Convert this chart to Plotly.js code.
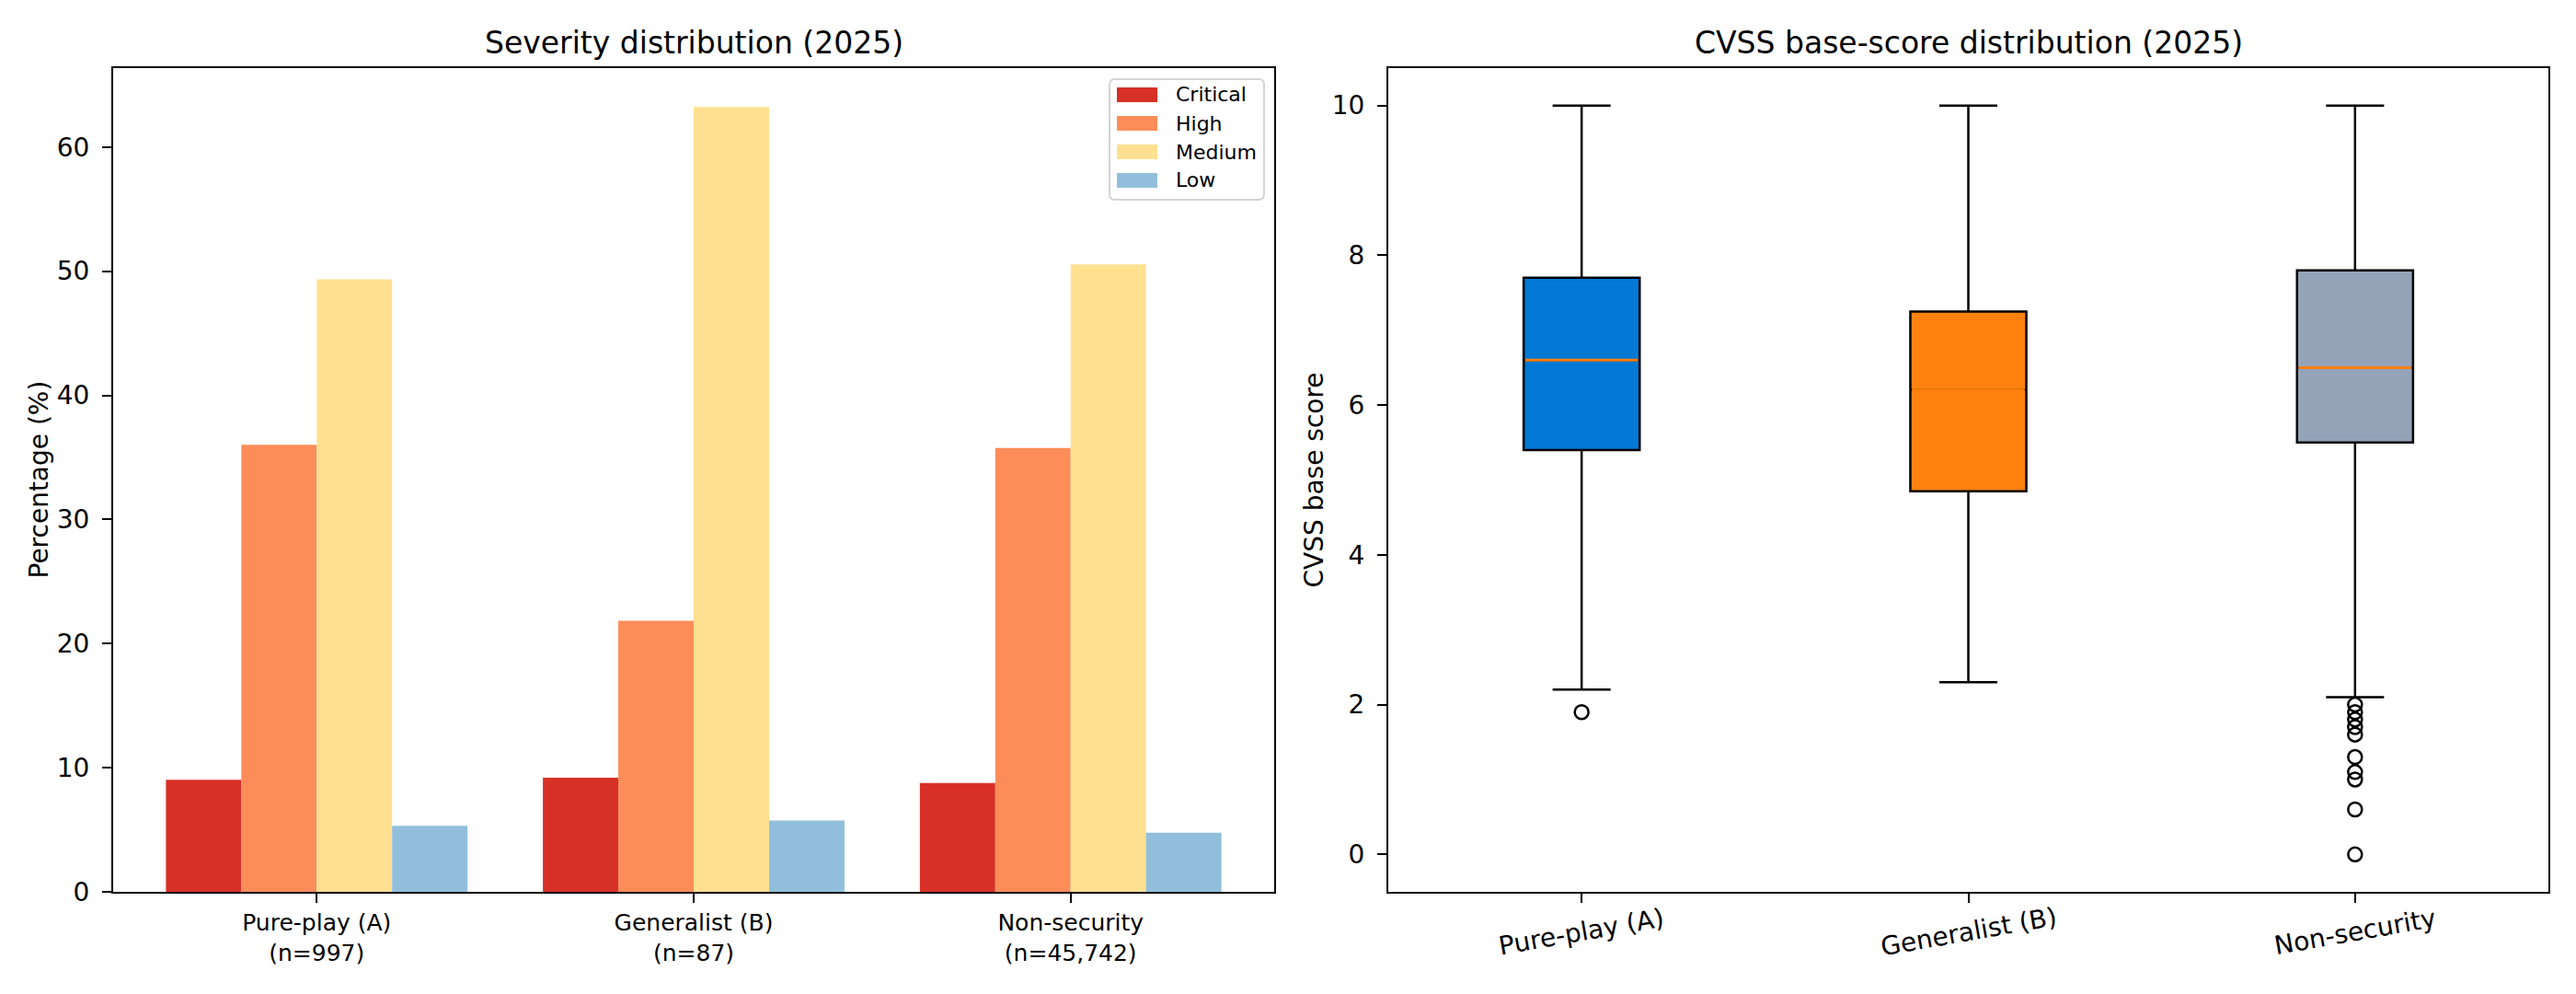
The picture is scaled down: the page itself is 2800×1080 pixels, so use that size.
<!DOCTYPE html>
<html>
<head>
<meta charset="utf-8">
<script src="https://cdn.plot.ly/plotly-3.0.1.min.js"></script>
<style>
  html, body { margin: 0; padding: 0; background: #ffffff; }
  #chart { width: 2800px; height: 1080px; }
</style>
</head>
<body>
<div id="chart"></div>
<script>
// ---- data -------------------------------------------------------------
const groups = ['Pure-play (A)', 'Generalist (B)', 'Non-security'];
const groupSizes = ['997', '87', '45,742'];

const severities = ['Critical', 'High', 'Medium', 'Low'];
const severityColors = ['#d73027', '#fc8d59', '#fee090', '#91bfdb'];

// share of CVEs per severity level (%), one value per group
const pctCritical = [9.03, 9.20, 8.77];
const pctHigh     = [36.01, 21.84, 35.76];
const pctMedium   = [49.35, 63.22, 50.55];
const pctLow      = [5.32, 5.75, 4.77];

// CVSS base-score summary per group
const boxColors        = ['#0078d4', '#ff8210', '#94a3b8'];
const cvssQ1           = [5.4, 4.85, 5.5];
const cvssMedian       = [6.6, 6.2, 6.5];
const cvssQ3           = [7.7, 7.25, 7.8];
const cvssLowerWhisker = [2.2, 2.3, 2.1];
const cvssUpperWhisker = [10, 10, 10];
const outliersPurePlay    = [1.9];
const outliersGeneralist  = [];
const outliersNonSecurity = [2.0, 1.9, 1.8, 1.7, 1.6, 1.3, 1.1, 1.0, 0.6, 0.0];

// ---- helpers ----------------------------------------------------------
const FIG_W = 2800, FIG_H = 1080;
const px = x => x / FIG_W;          // pixel column -> paper x
const py = y => 1 - y / FIG_H;      // pixel row    -> paper y
const FONT = 'DejaVu Sans, Verdana, sans-serif';

const pctBySeverity = [pctCritical, pctHigh, pctMedium, pctLow];
const outliersByGroup = [outliersPurePlay, outliersGeneralist, outliersNonSecurity];
const BOX_WIDTH = 0.3;

// ---- traces -----------------------------------------------------------
const traces = [];

severities.forEach((sev, k) => {
  traces.push({
    type: 'bar', name: sev,
    x: groups, y: pctBySeverity[k],
    xaxis: 'x', yaxis: 'y',
    marker: { color: severityColors[k], line: { width: 0 } },
    showlegend: false, hoverinfo: 'x+y+name'
  });
});

groups.forEach((g, i) => {
  traces.push({
    type: 'box', name: g,
    x: [g],
    q1: [cvssQ1[i]], median: [cvssMedian[i]], q3: [cvssQ3[i]],
    lowerfence: [cvssLowerWhisker[i]], upperfence: [cvssUpperWhisker[i]],
    xaxis: 'x2', yaxis: 'y2',
    fillcolor: boxColors[i],
    line: { color: '#000000', width: 2.5 },
    width: BOX_WIDTH, whiskerwidth: 0.5,
    boxpoints: false, showlegend: false
  });
});

groups.forEach((g, i) => {
  const vals = outliersByGroup[i];
  if (!vals.length) return;
  traces.push({
    type: 'scatter', mode: 'markers',
    x: vals.map(() => g), y: vals,
    xaxis: 'x2', yaxis: 'y2',
    marker: { symbol: 'circle-open', size: 15, color: '#000000', line: { width: 2.5, color: '#000000' } },
    showlegend: false, hoverinfo: 'y'
  });
});

// ---- axes -------------------------------------------------------------
const axisCommon = {
  showline: true, mirror: true, linecolor: '#000000', linewidth: 2,
  ticks: 'outside', ticklen: 10, tickwidth: 2, tickcolor: '#000000',
  showgrid: false, zeroline: false, fixedrange: true,
  tickfont: { family: FONT, size: 28, color: '#000000' }
};

const yTop = 74, yBottom = 969;

const layout = {
  width: FIG_W, height: FIG_H,
  margin: { l: 0, r: 0, t: 0, b: 0, pad: 0 },
  paper_bgcolor: '#ffffff', plot_bgcolor: '#ffffff',
  font: { family: FONT, color: '#000000' },
  showlegend: false,
  barmode: 'group', bargap: 0.2, bargroupgap: 0,
  boxmode: 'overlay',
  xaxis: Object.assign({}, axisCommon, {
    domain: [px(123), px(1385)], anchor: 'y',
    type: 'category', range: [-0.54, 2.54],
    tickvals: groups,
    ticktext: groups.map((g, i) => g + '<br>(n=' + groupSizes[i] + ')'),
    tickfont: { family: FONT, size: 25, color: '#000000' }
  }),
  yaxis: Object.assign({}, axisCommon, {
    domain: [py(yBottom), py(yTop)], anchor: 'x',
    range: [0, 66.36], tick0: 0, dtick: 10, ticklabelstandoff: 8
  }),
  xaxis2: Object.assign({}, axisCommon, {
    domain: [px(1509), px(2770)], anchor: 'y2',
    type: 'category', range: [-0.5, 2.5],
    tickvals: groups, showticklabels: false
  }),
  yaxis2: Object.assign({}, axisCommon, {
    domain: [py(yBottom), py(yTop)], anchor: 'x2',
    range: [-0.5, 10.5], tick0: 0, dtick: 2, ticklabelstandoff: 8
  }),
  shapes: [],
  annotations: []
};

// median markers drawn in orange over each box
groups.forEach((g, i) => {
  layout.shapes.push({
    type: 'line', xref: 'x2', yref: 'y2', layer: 'above',
    x0: i - BOX_WIDTH / 2 + 0.004, x1: i + BOX_WIDTH / 2 - 0.004,
    y0: cvssMedian[i], y1: cvssMedian[i],
    line: { color: '#ff7f0e', width: 3 }
  });
});

// subplot titles
layout.annotations.push(
  { text: 'Severity distribution (2025)', xref: 'paper', yref: 'paper',
    x: px((123 + 1385) / 2), y: py(46), xanchor: 'center', yanchor: 'middle',
    showarrow: false, font: { family: FONT, size: 33, color: '#000000' } },
  { text: 'CVSS base-score distribution (2025)', xref: 'paper', yref: 'paper',
    x: px((1509 + 2770) / 2), y: py(46), xanchor: 'center', yanchor: 'middle',
    showarrow: false, font: { family: FONT, size: 33, color: '#000000' } }
);

// y-axis titles
layout.annotations.push(
  { text: 'Percentage (%)', xref: 'paper', yref: 'paper',
    x: px(42), y: py((yTop + yBottom) / 2), textangle: -90,
    xanchor: 'center', yanchor: 'middle', showarrow: false,
    font: { family: FONT, size: 28, color: '#000000' } },
  { text: 'CVSS base score', xref: 'paper', yref: 'paper',
    x: px(1428), y: py((yTop + yBottom) / 2), textangle: -90,
    xanchor: 'center', yanchor: 'middle', showarrow: false,
    font: { family: FONT, size: 28, color: '#000000' } }
);

// slanted category labels under the box plot
groups.forEach(g => {
  layout.annotations.push({
    text: g, xref: 'x2', yref: 'paper', x: g, y: py(1012),
    textangle: -10, xanchor: 'center', yanchor: 'middle', showarrow: false,
    font: { family: FONT, size: 28, color: '#000000' }
  });
});

// severity legend (upper right of the bar panel)
(function () {
  const x0 = 1206, x1 = 1374, y0 = 86, y1 = 217, r = 6;
  const P = (x, y) => px(x) + ',' + py(y);
  const path = 'M' + P(x0 + r, y0) + ' L' + P(x1 - r, y0) + ' Q' + P(x1, y0) + ' ' + P(x1, y0 + r) +
               ' L' + P(x1, y1 - r) + ' Q' + P(x1, y1) + ' ' + P(x1 - r, y1) +
               ' L' + P(x0 + r, y1) + ' Q' + P(x0, y1) + ' ' + P(x0, y1 - r) +
               ' L' + P(x0, y0 + r) + ' Q' + P(x0, y0) + ' ' + P(x0 + r, y0) + ' Z';
  layout.shapes.push({
    type: 'path', xref: 'paper', yref: 'paper', layer: 'above', path: path,
    fillcolor: 'rgba(255,255,255,0.8)', line: { color: '#d5d5d5', width: 2 }
  });
  severities.forEach((sev, k) => {
    const cy = 103 + k * 31;
    layout.shapes.push({
      type: 'rect', xref: 'paper', yref: 'paper', layer: 'above',
      x0: px(1214), x1: px(1258), y0: py(cy + 8), y1: py(cy - 8),
      fillcolor: severityColors[k], line: { width: 0 }
    });
    layout.annotations.push({
      text: sev, xref: 'paper', yref: 'paper', x: px(1276), y: py(cy),
      xanchor: 'left', yanchor: 'middle', showarrow: false,
      font: { family: FONT, size: 22, color: '#000000' }
    });
  });
})();

Plotly.newPlot('chart', traces, layout, { displayModeBar: false, responsive: false });
</script>
</body>
</html>
